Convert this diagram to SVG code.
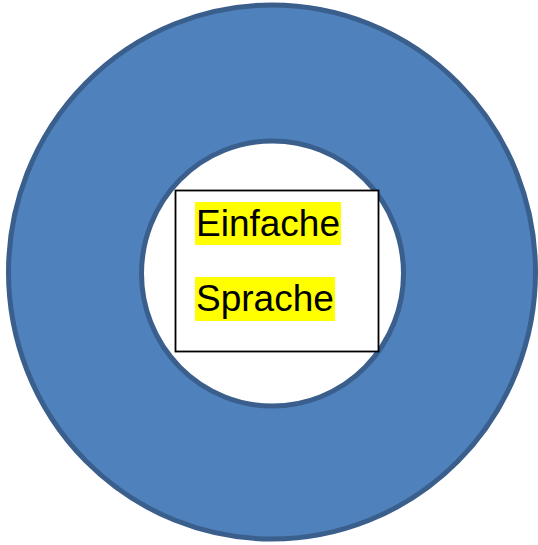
<svg xmlns="http://www.w3.org/2000/svg" width="538" height="545" viewBox="0 0 538 545">
<style>
.ring{fill:#4F81BD;stroke:#3A5F8C;stroke-width:5;fill-rule:evenodd}
.box{fill:#FFFFFF;stroke:#000000;stroke-width:1.8}
.hl{fill:#FFFF00}
.t{font-family:"Liberation Sans",Arial,sans-serif;font-size:37px;fill:#000000}
</style>
<rect width="538" height="545" fill="#FFFFFF"/>
<g id="ring">
<path class="ring" d="M8.5,272 A263.5,267 0 1,1 535.5,272 A263.5,267 0 1,1 8.5,272 Z M141.5,273.5 A131,132.5 0 1,0 403.5,273.5 A131,132.5 0 1,0 141.5,273.5 Z"/>
</g>
<g id="box">
<rect class="box" x="175.5" y="190.5" width="203" height="161"/>
<rect class="hl" x="195" y="202" width="146" height="43"/>
<rect class="hl" x="195" y="277" width="140" height="44"/>
<text class="t" x="196" y="236">Einfache</text>
<text class="t" x="196" y="311">Sprache</text>
</g>
</svg>
